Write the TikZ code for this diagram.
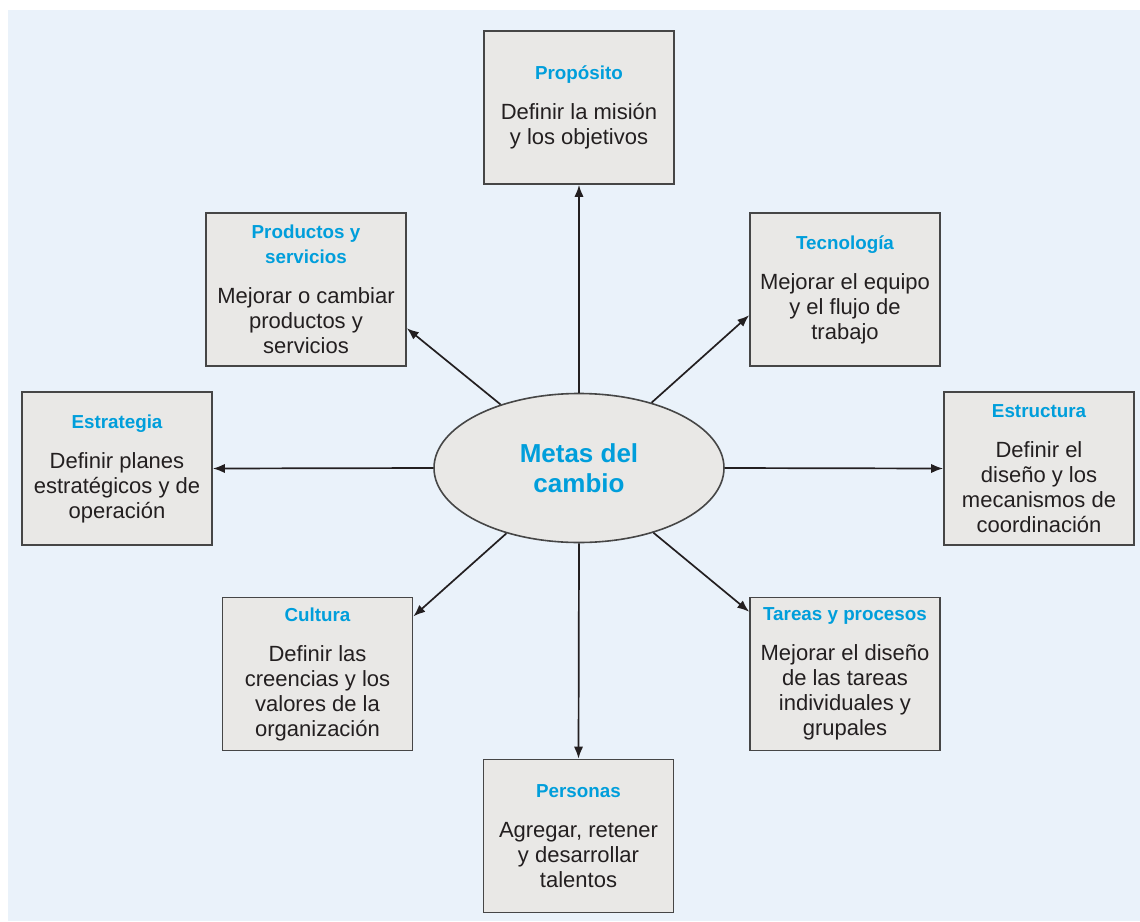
\documentclass[tikz,border=0pt]{standalone}
\usepackage{fontspec}
\setmainfont{Liberation Sans}
\definecolor{bgblue}{RGB}{234,242,250}
\definecolor{boxgrey}{RGB}{233,232,230}
\definecolor{linegrey}{RGB}{70,70,70}
\definecolor{titblue}{RGB}{0,158,219}
\definecolor{txtdark}{RGB}{35,31,32}
\newcommand{\gtitle}[1]{{\color{titblue}\fontsize{9.4}{12.5}\selectfont\bfseries #1}}
\usetikzlibrary{arrows.meta, positioning, shapes.geometric}

\begin{document}
\begin{tikzpicture}[
  x=0.5pt, y=-0.5pt,
  goalbox/.style={rectangle, draw=linegrey, line width=0.8pt, fill=boxgrey, minimum width=95pt, minimum height=76.5pt, inner sep=2pt, align=center, text=txtdark, font=\fontsize{11}{12.5}\selectfont},
  core/.style={ellipse, draw=linegrey, line width=0.8pt, fill=boxgrey, minimum width=145pt, minimum height=74.5pt, align=center, text=titblue, font=\fontsize{13}{15}\selectfont\bfseries},
  arr/.style={-{Latex[length=6pt,width=4.6pt]}, line width=0.85pt, txtdark}
]
  \useasboundingbox (0,0) rectangle (1140,921);
  \fill[bgblue] (8,10) rectangle (1140,921);

  \node[core] (meta) at (579,468) {Metas del\\cambio};

  \node[goalbox] (prop) at (579,107.5) {\gtitle{Propósito}\\[7.5pt] Definir la misión\\y los objetivos};
  \node[goalbox, minimum width=100pt] (prod) at (306,289.5) {\gtitle{Productos y}\\\gtitle{servicios}\\[7.5pt] Mejorar o cambiar\\productos y\\servicios};
  \node[goalbox] (tecn) at (845,289.5) {\gtitle{Tecnología}\\[7.5pt] Mejorar el equipo\\y el flujo de\\trabajo};
  \node[goalbox] (estra) at (117,468.5) {\gtitle{Estrategia}\\[7.5pt] Definir planes\\estratégicos y de\\operación};
  \node[goalbox] (estru) at (1039,468.5) {\gtitle{Estructura}\\[7.5pt] Definir el\\diseño y los\\mecanismos de\\coordinación};
  \node[goalbox] (cult) at (317.5,674) {\gtitle{Cultura}\\[7.5pt] Definir las\\creencias y los\\valores de la\\organización};
  \node[goalbox] (tare) at (845,674) {\gtitle{Tareas y procesos}\\[7.5pt] Mejorar el diseño\\de las tareas\\individuales y\\grupales};
  \node[goalbox] (pers) at (578.5,836) {\gtitle{Personas}\\[7.5pt] Agregar, retener\\y desarrollar\\talentos};

  \draw[arr] (meta.north) -- (prop.south);
  \draw[arr] (meta.south) -- (pers.north);
  \draw[arr] (meta.west) -- (estra.east);
  \draw[arr] (meta.east) -- (estru.west);
  \draw[arr] (meta.141) -- (prod.-21);
  \draw[arr] (meta.42) -- (tecn.-165);
  \draw[arr] (meta.-138) -- (cult.31);
  \draw[arr] (meta.-41) -- (tare.147);
\end{tikzpicture}
\end{document}
